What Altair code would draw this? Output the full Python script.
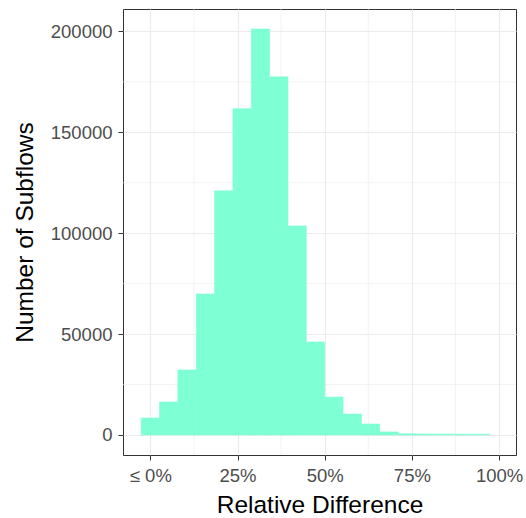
import altair as alt
import pandas as pd

# Histogram bins (relative difference, %)
bin_start = [-2.63, 2.63, 7.89, 13.16, 18.42, 23.68, 28.95, 34.21, 39.47, 44.74,
             50.00, 55.26, 60.53, 65.79, 71.05, 76.32, 81.58, 86.84, 92.11]
bin_end = [2.63, 7.89, 13.16, 18.42, 23.68, 28.95, 34.21, 39.47, 44.74, 50.00,
           55.26, 60.53, 65.79, 71.05, 76.32, 81.58, 86.84, 92.11, 97.37]
counts = [8430, 16360, 32230, 69900, 121000, 161700, 201200, 177500, 103600, 46100,
          18800, 10400, 5450, 1500, 600, 500, 450, 400, 350]

x_ticks = [0, 25, 50, 75, 100]
y_ticks = [0, 50000, 100000, 150000, 200000]
x_minor = [12.5, 37.5, 62.5, 87.5]
y_minor = [25000, 75000, 125000, 175000]

df = pd.DataFrame({"lo": bin_start, "hi": bin_end, "count": counts})

xscale = alt.Scale(domain=[-7.84, 104.86], nice=False, zero=False)
yscale = alt.Scale(domain=[-9920, 211110], nice=False, zero=False)

FONT = "Liberation Sans"

xaxis = alt.Axis(
    values=x_ticks,
    title="Relative Difference",
    labelExpr="datum.value == 0 ? '≤ 0%' : datum.value + '%'",
    labelBaseline="alphabetic",
    labelPadding=21,
    titleBaseline="alphabetic",
    titleY=57,
)
yaxis = alt.Axis(
    values=y_ticks,
    format="d",
    title="Number of Subflows",
    labelPadding=6,
    titleBaseline="alphabetic",
    titleX=-91,
    titleY=223,
    titleAngle=-90,
)

vgrid = alt.Chart(pd.DataFrame({"v": x_minor})).mark_rule(
    color="#EBEBEB", strokeWidth=0.6
).encode(x=alt.X("v:Q", scale=xscale, axis=xaxis))

hgrid = alt.Chart(pd.DataFrame({"v": y_minor})).mark_rule(
    color="#EBEBEB", strokeWidth=0.6
).encode(y=alt.Y("v:Q", scale=yscale, axis=yaxis))

bars = alt.Chart(df).mark_rect(
    color="#7FFFD4", stroke="#7FFFD4", strokeWidth=0.6
).encode(
    x=alt.X("lo:Q", scale=xscale, axis=xaxis),
    x2="hi:Q",
    y=alt.Y("count:Q", scale=yscale, axis=yaxis),
    y2=alt.datum(0),
)

chart = (
    alt.layer(vgrid, hgrid, bars)
    .properties(
        width=393,
        height=446,
        padding={"left": 123, "top": 9, "right": 10, "bottom": 63},
        autosize="none",
        background="white",
    )
    .configure_view(stroke="#333333", strokeWidth=1)
    .configure_axis(
        labelFont=FONT,
        labelFontSize=18.5,
        labelColor="#4D4D4D",
        titleFont=FONT,
        titleFontSize=24.5,
        titleFontWeight="normal",
        titleColor="#000000",
        domain=False,
        tickColor="#333333",
        tickWidth=1,
        tickSize=5,
        grid=True,
        gridColor="#EBEBEB",
        gridWidth=1.1,
    )
)

chart.save("out.html", embed_options={"renderer": "svg", "actions": False})
